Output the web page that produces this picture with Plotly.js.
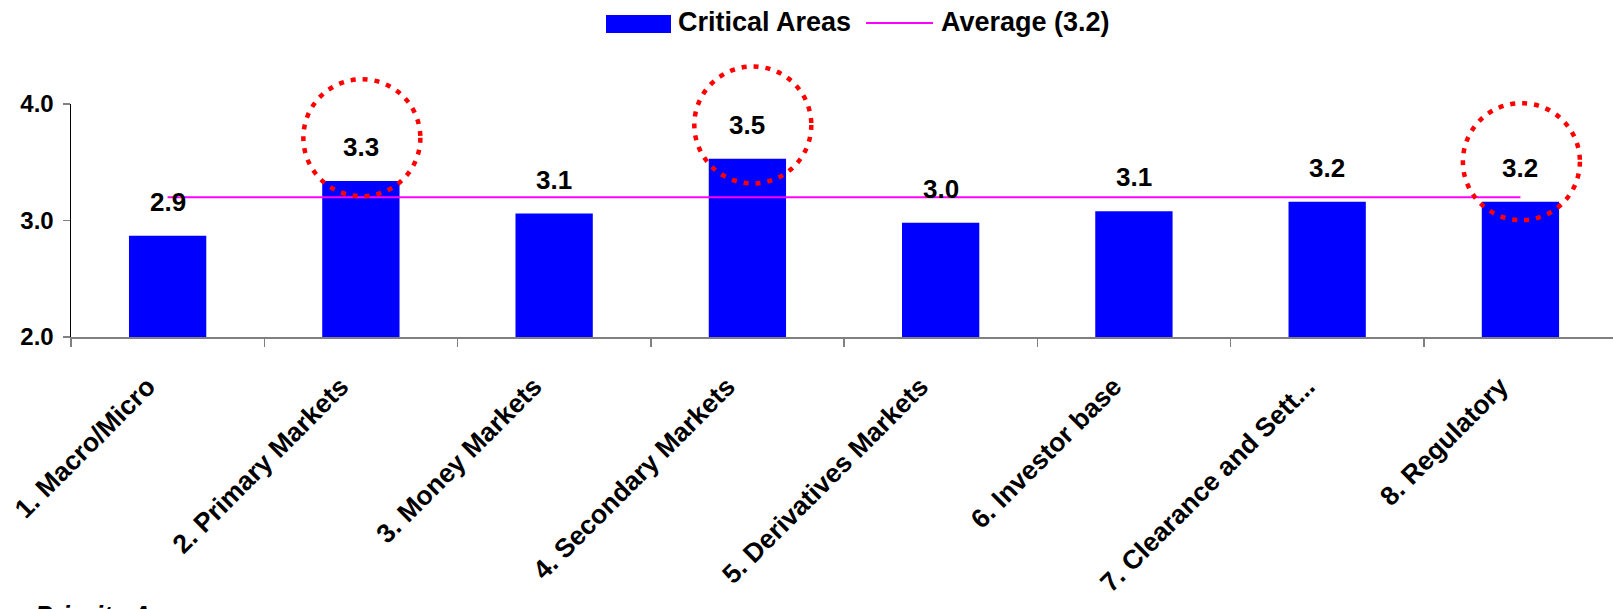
<!DOCTYPE html>
<html>
<head>
<meta charset="utf-8">
<script src="https://cdn.plot.ly/plotly-3.0.1.min.js"></script>
<style>html,body{margin:0;padding:0;background:#fff;overflow:hidden;}#chart{width:1613px;height:609px;}</style>
</head>
<body>
<div id="chart"></div>
<script>
// ---- data ----
const categories = ["1. Macro/Micro", "2. Primary Markets", "3. Money Markets", "4. Secondary Markets",
  "5. Derivatives Markets", "6. Investor base", "7. Clearance and Sett...", "8. Regulatory"];
const criticalAreas = [2.87, 3.34, 3.06, 3.53, 2.98, 3.08, 3.16, 3.16];
const averageValue = [3.2, 3.2, 3.2, 3.2, 3.2, 3.2, 3.2, 3.2];
const seriesNames = ["Critical Areas", "Average (3.2)"];
const highlightIndex = [1, 3, 7];           // circled categories
const highlightShift = [0.005, 0.028, 0.005]; // circle centre offset (category units)
const highlightCenter = [3.71, 3.82, 3.505];  // circle centre (value units)
const yTicks = [2, 3, 4];
const footnote = "Priority A";

// ---- layout helpers ----
const W = 1613, H = 609;
const M = {l: 71, r: 0, t: 104, b: 272};
const plotW = W - M.l - M.r, plotH = H - M.t - M.b;
const yMin = 2, yMax = 4;
const xRange = [-0.5, 7.479];
const px2paperX = p => (p - M.l) / plotW;
const px2paperY = p => (H - M.b - p) / plotH;
const font = "Arial, 'Liberation Sans', sans-serif";

const traces = [
  {type: "bar", x: categories, y: criticalAreas, name: seriesNames[0],
   marker: {color: "#0000FF"}, hoverinfo: "x+y", showlegend: false},
  {type: "scatter", mode: "lines", x: categories, y: averageValue, name: seriesNames[1],
   line: {color: "#FF00FF", width: 2}, showlegend: false}
];

const annotations = criticalAreas.map((v, i) => ({
  x: categories[i], y: v, xref: "x", yref: "y", text: v.toFixed(1), showarrow: false,
  yanchor: "bottom", yshift: 17, font: {family: font, size: 26, color: "#000", weight: 700}
}));

// custom legend (top centre)
annotations.push({xref: "paper", yref: "paper", x: px2paperX(676), y: px2paperY(22), xanchor: "left", yanchor: "middle",
  text: seriesNames[0], showarrow: false, font: {family: font, size: 27, color: "#000", weight: 700}});
annotations.push({xref: "paper", yref: "paper", x: px2paperX(939), y: px2paperY(22), xanchor: "left", yanchor: "middle",
  text: seriesNames[1], showarrow: false, font: {family: font, size: 27, color: "#000", weight: 700}});
annotations.push({xref: "paper", yref: "paper", x: px2paperX(33), y: px2paperY(598), xanchor: "left", yanchor: "top",
  text: "<b><i>" + footnote + "</i></b>", showarrow: false, font: {family: font, size: 26, color: "#000"}});

const shapes = [
  {type: "rect", xref: "paper", yref: "paper", x0: px2paperX(606), x1: px2paperX(671), y0: px2paperY(33), y1: px2paperY(15),
   fillcolor: "#0000FF", line: {width: 0}},
  {type: "line", xref: "paper", yref: "paper", x0: px2paperX(866), x1: px2paperX(933), y0: px2paperY(23), y1: px2paperY(23),
   line: {color: "#FF00FF", width: 2}}
];
const rPx = 58.5;
highlightIndex.forEach((idx, k) => {
  const cx = (idx + highlightShift[k] - xRange[0]) / (xRange[1] - xRange[0]);
  const cy = (highlightCenter[k] - yMin) / (yMax - yMin);
  shapes.push({type: "circle", xref: "paper", yref: "paper", layer: "above",
    x0: cx - rPx / plotW, x1: cx + rPx / plotW, y0: cy - rPx / plotH, y1: cy + rPx / plotH,
    line: {color: "#FF0000", width: 4.5, dash: "5px,7px"}, fillcolor: "rgba(0,0,0,0)"});
});

const layout = {
  width: W, height: H, margin: M, paper_bgcolor: "#fff", plot_bgcolor: "#fff",
  showlegend: false, bargap: 0.6,
  font: {family: font, color: "#000"},
  xaxis: {type: "category", range: xRange, showline: true, linecolor: "#808080", linewidth: 1.5,
    ticks: "outside", tickson: "boundaries", ticklen: 8, tickcolor: "#808080", tickwidth: 1.5,
    tickangle: -45, ticklabelstandoff: 22, ticklabelshift: -20,
    tickfont: {family: font, size: 26.5, color: "#000", weight: 700},
    showgrid: false, zeroline: false, fixedrange: true},
  yaxis: {range: [yMin, yMax], tickvals: yTicks, tickformat: ".1f", showline: true, linecolor: "#000", linewidth: 1.5,
    ticks: "outside", ticklen: 7, tickcolor: "#808080", tickwidth: 1.5, ticklabelstandoff: 4,
    tickfont: {family: font, size: 24, color: "#000", weight: 700},
    showgrid: false, zeroline: false, fixedrange: true},
  annotations: annotations,
  shapes: shapes
};

Plotly.newPlot("chart", traces, layout, {displayModeBar: false, staticPlot: true});
</script>
</body>
</html>
